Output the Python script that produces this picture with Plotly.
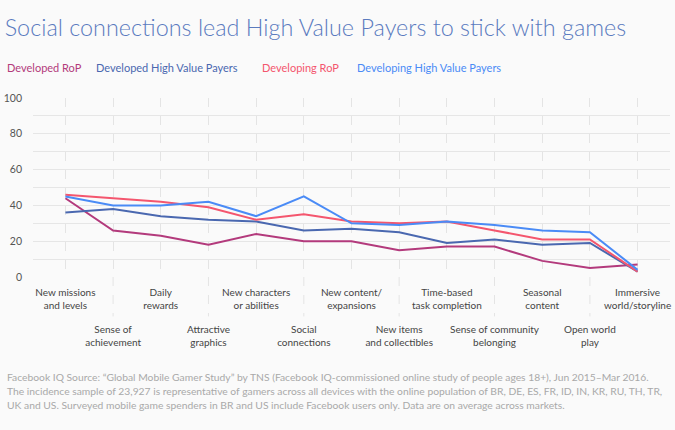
import plotly.graph_objects as go

# driver categories (x axis) and how each label is split over two lines
categories = [
    "New missions and levels", "Sense of achievement", "Daily rewards",
    "Attractive graphics", "New characters or abilities", "Social connections",
    "New content/ expansions", "New items and collectibles",
    "Time-based task completion", "Sense of community belonging",
    "Seasonal content", "Open world play", "Immersive world/storyline",
]
label_lines = [
    ["New missions", "and levels"], ["Sense of", "achievement"],
    ["Daily", "rewards"], ["Attractive", "graphics"],
    ["New characters", "or abilities"], ["Social", "connections"],
    ["New content/", "expansions"], ["New items", "and collectibles"],
    ["Time-based", "task completion"], ["Sense of community", "belonging"],
    ["Seasonal", "content"], ["Open world", "play"],
    ["Immersive", "world/storyline"],
]

developed_rop = [44, 26, 23, 18, 24, 20, 20, 15, 17, 17, 9, 5, 7]
developed_hvp = [36, 38, 34, 32, 31, 26, 27, 25, 19, 21, 18, 19, 3]
developing_rop = [46, 44, 42, 39, 32, 35, 31, 30, 31, 26, 21, 21, 3]
developing_hvp = [45, 40, 40, 42, 34, 45, 30, 29, 31, 29, 26, 25, 4]

series = [
    ("Developed RoP", developed_rop, "#b33a7c"),
    ("Developed High Value Payers", developed_hvp, "#4a68b0"),
    ("Developing RoP", developing_rop, "#f4566e"),
    ("Developing High Value Payers", developing_hvp, "#4a8bf6"),
]

title = "Social connections lead High Value Payers to stick with games"
footnote = [
    "Facebook IQ Source: \u201cGlobal Mobile Gamer Study\u201d by TNS (Facebook IQ-commissioned online study of people ages 18+), Jun 2015\u2013Mar 2016.",
    "The incidence sample of 23,927 is representative of gamers across all devices with the online population of BR, DE, ES, FR, ID, IN, KR, RU, TH, TR,",
    "UK and US. Surveyed mobile game spenders in BR and US include Facebook users only. Data are on average across markets.",
]

FONT = "Lato"

labels = ["<br>".join(lines) for lines in label_lines]
even_cats = categories[0::2]
odd_cats = categories[1::2]

fig = go.Figure()
for k, (name, vals, color) in enumerate(series):
    # last trace goes on the overlay axis that carries the second label row
    fig.add_trace(go.Scatter(
        x=categories, y=vals, name=name, mode="lines",
        line=dict(color=color, width=2), showlegend=False,
        xaxis="x2" if k == len(series) - 1 else "x",
    ))

# text-only legend across the top
legend_x = [-0.044, 0.0958, 0.356, 0.5055]
for (name, vals, color), lx in zip(series, legend_x):
    fig.add_annotation(
        text=name, x=lx, y=1.173, xref="paper", yref="paper",
        xanchor="left", yanchor="middle", showarrow=False,
        font=dict(family=FONT, size=11, color=color),
    )

# footnote lines
for k, line in enumerate(footnote):
    fig.add_annotation(
        text=line, x=-0.044, y=-0.557 - k * 0.08, xref="paper", yref="paper",
        xanchor="left", yanchor="middle", showarrow=False,
        font=dict(family=FONT, size=10.3, color="#a9a9a9"),
    )

# leader lines for the second row of labels
for c in odd_cats:
    fig.add_shape(
        type="line", xref="x", yref="paper", x0=c, x1=c, y0=0, y1=-0.22,
        line=dict(color="#e4e4e4", width=1, dash="dash"), layer="below",
    )

fig.update_layout(
    width=675, height=430,
    margin=dict(l=33, r=5, t=98, b=153, autoexpand=False),
    paper_bgcolor="#fafafa", plot_bgcolor="#fafafa",
    title=dict(
        text=title, x=0.007, xref="container", xanchor="left",
        y=1 - 28 / 430, yanchor="middle",
        font=dict(family=FONT, size=23.4, color="#5b7bbf", weight=300),
    ),
    font=dict(family=FONT),
    xaxis=dict(
        type="category", range=[-0.68, 12.68], automargin=False,
        categoryorder="array", categoryarray=categories,
        tickmode="array", tickvals=even_cats,
        ticktext=labels[0::2], tickangle=0, ticklabelstandoff=8,
        tickfont=dict(family=FONT, size=10, color="#444444"),
        showgrid=True, gridcolor="#e4e4e4", griddash="dash", gridwidth=1,
        showline=False, zeroline=False, ticks="",
    ),
    xaxis2=dict(
        type="category", overlaying="x", matches="x", side="bottom",
        anchor="y", automargin=False,
        categoryorder="array", categoryarray=categories,
        tickmode="array", tickvals=odd_cats,
        ticktext=labels[1::2], tickangle=0, ticklabelstandoff=45,
        tickfont=dict(family=FONT, size=10, color="#444444"),
        showgrid=True, gridcolor="#e4e4e4", griddash="dash", gridwidth=1,
        showline=False, zeroline=False, ticks="",
    ),
    yaxis=dict(
        range=[0, 100], dtick=20, tick0=0, automargin=False,
        tickfont=dict(family=FONT, size=10.5, color="#555555"),
        showgrid=True, gridcolor="#e6e6e6", gridwidth=1,
        minor=dict(dtick=10, showgrid=True, gridcolor="#e6e6e6", gridwidth=1),
        zeroline=False, showline=False, ticks="", ticklabelstandoff=10,
    ),
)

fig.write_html("out.html", config={"displayModeBar": False},
               post_script="document.body.style.margin='0';")
